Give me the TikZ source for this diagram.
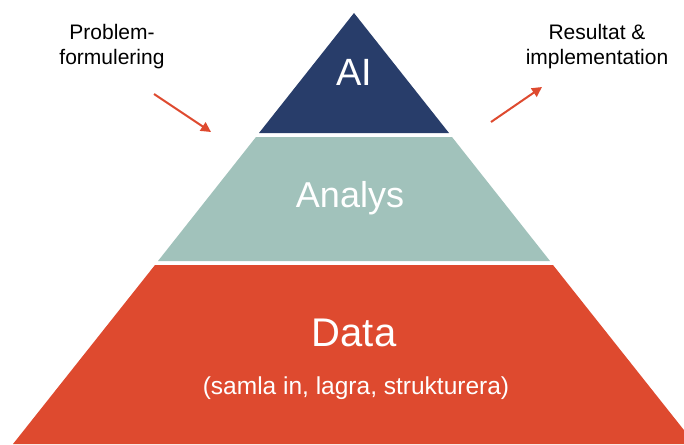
\documentclass[tikz,border=0pt]{standalone}
\usepackage{fontspec}
\setmainfont{Liberation Sans}
\usepackage{tikz}
\usetikzlibrary{positioning, arrows.meta}

\definecolor{navy}{HTML}{283D6A}
\definecolor{sage}{HTML}{A1C2BB}
\definecolor{brick}{HTML}{DE4A2F}

\begin{document}
\begin{tikzpicture}[x=1pt, y=-1pt,
    tier/.style={white, align=center},
    note/.style={black, align=center, font=\fontsize{21}{25}\selectfont},
    pointer/.style={-{Triangle[length=10pt, width=10pt]}, brick, line width=2pt}]
    % Fix the frame
    \useasboundingbox (0,0) rectangle (684,444);
    \clip (0,0) rectangle (684,444);

    % Draw the three tiers of the pyramid
    \fill[navy] (354,13) -- (449,133) -- (259,133) -- cycle;
    \fill[sage] (256,137) -- (452,137) -- (550,261) -- (158,261) -- cycle;
    \fill[brick] (155,265) -- (553,265) -- (695,444) -- (13,444) -- cycle;

    % Label the tiers
    \node[tier, font=\fontsize{38}{44}\selectfont] (ai) at (354,72) {AI};
    \node[tier, font=\fontsize{36}{42}\selectfont] (analys) at (350,198) {Analys};
    \node[tier, font=\fontsize{40}{46}\selectfont] (data) at (354,333) {Data};
    \node[tier, font=\fontsize{24.5}{29}\selectfont] (detail) at (356,388) {(samla in, lagra, strukturera)};

    % Side notes with their arrows
    \node[note] (problem) at (112,47) {Problem-\\formulering};
    \coordinate (pin) at (154,94);
    \coordinate (pout) at (211,132);
    \draw[pointer] (pin) -- (pout);

    \node[note] (result) at (597,47) {Resultat \&\\implementation};
    \coordinate (rin) at (491,122);
    \coordinate (rout) at (542,87);
    \draw[pointer] (rin) -- (rout);
\end{tikzpicture}
\end{document}
